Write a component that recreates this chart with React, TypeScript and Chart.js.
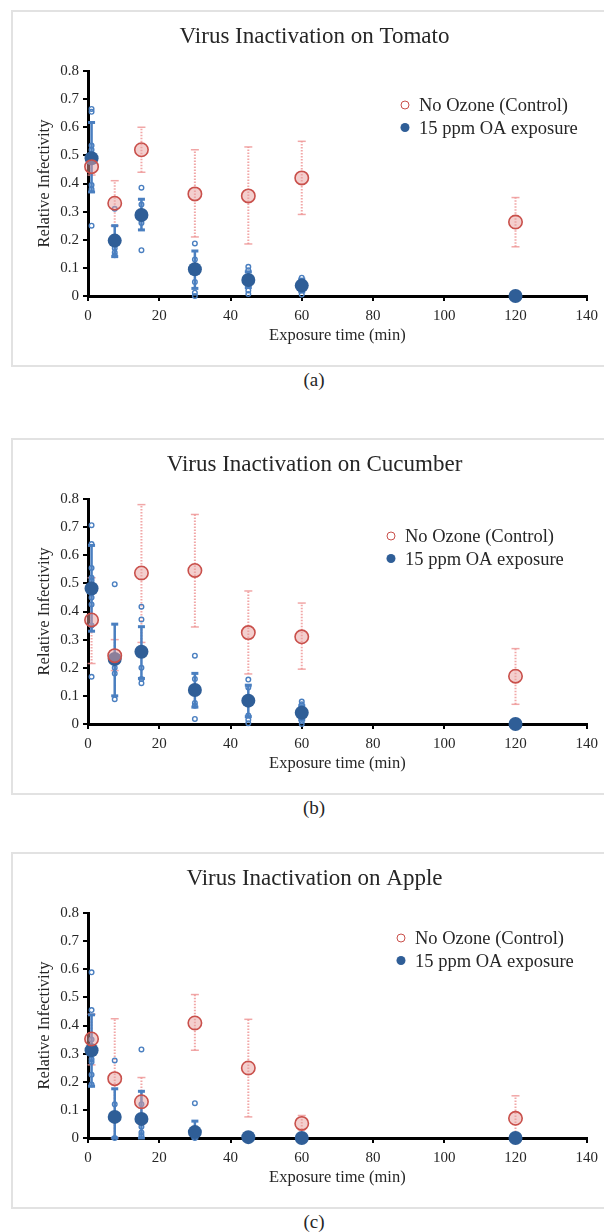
import React, { useEffect, useRef } from 'react';
import { Chart, registerables } from 'chart.js';

Chart.register(...registerables);

const FONT = "'Times New Roman', 'Liberation Serif', serif";
const TEXT = '#262626';

// ---------- data ----------
const TIMES = [1, 7.5, 15, 30, 45, 60, 120];
const TITLES = ['Virus Inactivation on Tomato', 'Virus Inactivation on Cucumber', 'Virus Inactivation on Apple'];
const PANEL_LABELS = ['(a)', '(b)', '(c)'];
const LEGEND_LABELS = ['No Ozone (Control)', '15 ppm OA exposure'];
const X_TITLE = 'Exposure time (min)';
const Y_TITLE = 'Relative Infectivity';

// Tomato
const TOMATO_CTRL_MEAN = [0.46, 0.33, 0.52, 0.363, 0.356, 0.42, 0.263];
const TOMATO_CTRL_LO = [0.43, 0.25, 0.44, 0.21, 0.185, 0.29, 0.175];
const TOMATO_CTRL_HI = [0.49, 0.41, 0.6, 0.52, 0.53, 0.55, 0.35];
const TOMATO_OA_MEAN = [0.49, 0.197, 0.288, 0.095, 0.057, 0.037, 0];
const TOMATO_OA_LO = [0.37, 0.14, 0.235, 0.027, 0.03, 0.015, 0];
const TOMATO_OA_HI = [0.617, 0.25, 0.344, 0.16, 0.086, 0.06, 0];
const TOMATO_OA_REPS = [
  [0.665, 0.655, 0.535, 0.52, 0.5, 0.395, 0.38, 0.25],
  [0.31, 0.17, 0.155, 0.145],
  [0.385, 0.325, 0.26, 0.163],
  [0.187, 0.13, 0.05, 0.012, 0.0],
  [0.104, 0.092, 0.07, 0.02, 0.007],
  [0.065, 0.05, 0.02, 0.005],
  [],
];

// Cucumber
const CUCUMBER_CTRL_MEAN = [0.37, 0.243, 0.537, 0.546, 0.325, 0.31, 0.17];
const CUCUMBER_CTRL_LO = [0.215, 0.19, 0.29, 0.345, 0.178, 0.195, 0.07];
const CUCUMBER_CTRL_HI = [0.52, 0.3, 0.78, 0.745, 0.473, 0.43, 0.268];
const CUCUMBER_OA_MEAN = [0.482, 0.231, 0.257, 0.121, 0.083, 0.04, 0];
const CUCUMBER_OA_LO = [0.33, 0.1, 0.162, 0.06, 0.026, 0.015, 0];
const CUCUMBER_OA_HI = [0.635, 0.355, 0.346, 0.18, 0.138, 0.065, 0];
const CUCUMBER_OA_REPS = [
  [0.707, 0.64, 0.555, 0.52, 0.51, 0.45, 0.425, 0.35, 0.168],
  [0.497, 0.24, 0.2, 0.18, 0.088],
  [0.417, 0.372, 0.2, 0.16, 0.145],
  [0.243, 0.16, 0.075, 0.065, 0.018],
  [0.158, 0.13, 0.03, 0.015, 0.003],
  [0.08, 0.07, 0.01, 0.0],
  [],
];

// Apple
const APPLE_CTRL_MEAN = [0.352, 0.211, 0.129, 0.409, 0.249, 0.052, 0.07];
const APPLE_CTRL_LO = [0.26, 0.0, 0.05, 0.312, 0.075, 0.03, 0.0];
const APPLE_CTRL_HI = [0.44, 0.424, 0.215, 0.51, 0.422, 0.08, 0.15];
const APPLE_OA_MEAN = [0.312, 0.075, 0.068, 0.021, 0.003, 0, 0];
const APPLE_OA_LO = [0.184, 0.0, 0.0, 0.0, 0, 0, 0];
const APPLE_OA_HI = [0.438, 0.175, 0.166, 0.06, 0, 0, 0];
const APPLE_OA_REPS = [
  [0.589, 0.455, 0.35, 0.28, 0.27, 0.225, 0.19],
  [0.276, 0.12, 0.0],
  [0.315, 0.12, 0.04, 0.02, 0.01],
  [0.124, 0.03, 0.0],
  [],
  [],
  [],
];

// ---------- styles ----------
const RED = '#c9504b';
const RED_FILL = 'rgba(232,160,158,0.5)';
const RED_ERR = 'rgba(238,145,145,0.8)';
const BLUE_DARK = '#2f5e97';
const BLUE = '#4a7fc0';

type PanelProps = {
  top: number;
  height: number;
  labelY: number;
  title: string;
  label: string;
  ctrlMean: number[];
  ctrlLo: number[];
  ctrlHi: number[];
  oaMean: number[];
  oaLo: number[];
  oaHi: number[];
  oaReps: number[][];
  legendX: number;
  legendY: number;
};

function buildErr(lo: number[], hi: number[]) {
  const pts: any[] = [];
  TIMES.forEach((t, i) => {
    if (hi[i] - lo[i] < 0.004) return;
    pts.push({ x: t, y: lo[i] }, { x: t, y: hi[i] }, { x: t, y: null });
  });
  return pts;
}

function buildPoints(vals: number[]) {
  return TIMES.map((t, i) => ({ x: t, y: vals[i] }));
}

function buildReps(reps: number[][]) {
  const pts: any[] = [];
  TIMES.forEach((t, i) => reps[i].forEach((v) => pts.push({ x: t, y: v })));
  return pts;
}

const inlineLegend = {
  id: 'inlineLegend',
  afterDraw(chart: any, _args: any, opts: any) {
    const ctx = chart.ctx;
    ctx.save();
    opts.items.forEach((it: any, i: number) => {
      const cy = opts.y + i * opts.gap;
      ctx.beginPath();
      ctx.arc(opts.x, cy, it.r, 0, Math.PI * 2);
      if (it.fill) {
        ctx.fillStyle = it.fill;
        ctx.fill();
      }
      if (it.stroke) {
        ctx.lineWidth = it.lw;
        ctx.strokeStyle = it.stroke;
        ctx.stroke();
      }
      ctx.font = `18.5px ${FONT}`;
      ctx.fillStyle = TEXT;
      ctx.textAlign = 'left';
      ctx.textBaseline = 'alphabetic';
      ctx.fillText(it.label, opts.x + opts.dx, cy + 6);
    });
    ctx.restore();
  },
};

const W = 593;

function Panel(p: PanelProps) {
  const ref = useRef<HTMLCanvasElement>(null);
  useEffect(() => {
    const tickFont = { family: FONT, size: 15 };
    const titleFont = { family: FONT, size: 16.5 };
    const grid = {
      display: true,
      drawOnChartArea: false,
      drawTicks: true,
      tickLength: 5,
      color: '#000',
      lineWidth: 2,
    };
    const border = { display: true, color: '#000', width: 3 };
    const chart = new Chart(ref.current as HTMLCanvasElement, {
      type: 'scatter',
      data: {
        datasets: [
          {
            label: LEGEND_LABELS[0],
            data: buildPoints(p.ctrlMean),
            pointRadius: 6.7,
            pointBorderWidth: 1.6,
            pointBackgroundColor: RED_FILL,
            pointBorderColor: RED,
            order: 1,
            clip: false,
          },
          {
            label: LEGEND_LABELS[1],
            data: buildPoints(p.oaMean),
            pointRadius: 7,
            pointBorderWidth: 0,
            pointBackgroundColor: BLUE_DARK,
            pointBorderColor: BLUE_DARK,
            order: 2,
            clip: false,
          },
          {
            label: 'oa-err',
            data: buildErr(p.oaLo, p.oaHi),
            showLine: true,
            spanGaps: false,
            borderColor: BLUE,
            borderWidth: 2.5,
            pointStyle: 'line',
            pointRadius: 3.5,
            pointBorderWidth: 3,
            pointBorderColor: BLUE,
            order: 3,
            clip: false,
          },
          {
            label: 'oa-reps',
            data: buildReps(p.oaReps),
            pointRadius: 2.3,
            pointBorderWidth: 1.4,
            pointBackgroundColor: 'rgba(255,255,255,0)',
            pointBorderColor: BLUE,
            order: 4,
            clip: false,
          },
          {
            label: 'ctrl-err',
            data: buildErr(p.ctrlLo, p.ctrlHi),
            showLine: true,
            spanGaps: false,
            borderColor: RED_ERR,
            borderWidth: 2,
            borderDash: [1.5, 1.5],
            pointStyle: 'line',
            pointRadius: 4,
            pointBorderWidth: 1.5,
            pointBorderColor: RED_ERR,
            order: 5,
            clip: false,
          },
        ] as any,
      },
      options: {
        responsive: false,
        animation: false,
        events: [],
        layout: { padding: { left: 31, right: 17, top: 0, bottom: 0 } },
        plugins: {
          legend: { display: false },
          tooltip: { enabled: false },
          title: {
            display: true,
            text: p.title,
            color: TEXT,
            font: { family: FONT, size: 23, weight: 'normal' },
            padding: { top: 12.7, bottom: 20.7 },
          },
          inlineLegend: {
            x: p.legendX,
            y: p.legendY,
            gap: 22.5,
            dx: 14,
            items: [
              { label: LEGEND_LABELS[0], r: 4, stroke: RED, lw: 1, fill: null },
              { label: LEGEND_LABELS[1], r: 4.5, stroke: null, lw: 0, fill: BLUE_DARK },
            ],
          },
        } as any,
        scales: {
          x: {
            type: 'linear',
            min: 0,
            max: 140,
            ticks: { stepSize: 20, font: tickFont, color: TEXT, padding: 6, maxRotation: 0 },
            grid,
            border,
            title: {
              display: true,
              text: X_TITLE,
              color: TEXT,
              font: titleFont,
              padding: { top: 0, bottom: 21 },
            },
            afterFit: (s: any) => {
              s.height = 71;
            },
          },
          y: {
            type: 'linear',
            min: 0,
            max: 0.8,
            ticks: {
              stepSize: 0.1,
              font: tickFont,
              color: TEXT,
              padding: 4,
              callback: (v: any) => (Math.abs(v) < 1e-9 ? '0' : Number(v).toFixed(1)),
            },
            grid,
            border,
            title: {
              display: true,
              text: Y_TITLE,
              color: TEXT,
              font: titleFont,
              padding: { top: -7, bottom: 0 },
            },
            afterFit: (s: any) => {
              s.width = 46;
            },
          },
        } as any,
      },
      plugins: [inlineLegend as any],
    });
    return () => chart.destroy();
  }, []);

  return (
    <>
      <div
        style={{
          position: 'absolute',
          left: 11,
          top: p.top,
          width: 600,
          height: p.height,
          border: '2px solid #e2e2e2',
          boxSizing: 'border-box',
        }}
      />
      <canvas
        ref={ref}
        width={W}
        height={p.height}
        style={{ position: 'absolute', left: 11, top: p.top, width: W, height: p.height, display: 'block' }}
      />
      <div
        style={{
          position: 'absolute',
          left: 0,
          width: 628,
          top: p.labelY - 12,
          height: 24,
          lineHeight: '24px',
          textAlign: 'center',
          fontFamily: FONT,
          fontSize: 19,
          color: TEXT,
        }}
      >
        {p.label}
      </div>
    </>
  );
}

export default function App() {
  return (
    <div
      style={{
        position: 'absolute',
        left: 0,
        top: 0,
        width: 604,
        height: 1232,
        overflow: 'hidden',
        background: '#fff',
      }}
    >
      <Panel
        top={10}
        height={357}
        labelY={380}
        title={TITLES[0]}
        label={PANEL_LABELS[0]}
        ctrlMean={TOMATO_CTRL_MEAN}
        ctrlLo={TOMATO_CTRL_LO}
        ctrlHi={TOMATO_CTRL_HI}
        oaMean={TOMATO_OA_MEAN}
        oaLo={TOMATO_OA_LO}
        oaHi={TOMATO_OA_HI}
        oaReps={TOMATO_OA_REPS}
        legendX={394}
        legendY={95}
      />
      <Panel
        top={438}
        height={357}
        labelY={808}
        title={TITLES[1]}
        label={PANEL_LABELS[1]}
        ctrlMean={CUCUMBER_CTRL_MEAN}
        ctrlLo={CUCUMBER_CTRL_LO}
        ctrlHi={CUCUMBER_CTRL_HI}
        oaMean={CUCUMBER_OA_MEAN}
        oaLo={CUCUMBER_OA_LO}
        oaHi={CUCUMBER_OA_HI}
        oaReps={CUCUMBER_OA_REPS}
        legendX={380}
        legendY={98}
      />
      <Panel
        top={852}
        height={357}
        labelY={1222}
        title={TITLES[2]}
        label={PANEL_LABELS[2]}
        ctrlMean={APPLE_CTRL_MEAN}
        ctrlLo={APPLE_CTRL_LO}
        ctrlHi={APPLE_CTRL_HI}
        oaMean={APPLE_OA_MEAN}
        oaLo={APPLE_OA_LO}
        oaHi={APPLE_OA_HI}
        oaReps={APPLE_OA_REPS}
        legendX={390}
        legendY={86}
      />
    </div>
  );
}
